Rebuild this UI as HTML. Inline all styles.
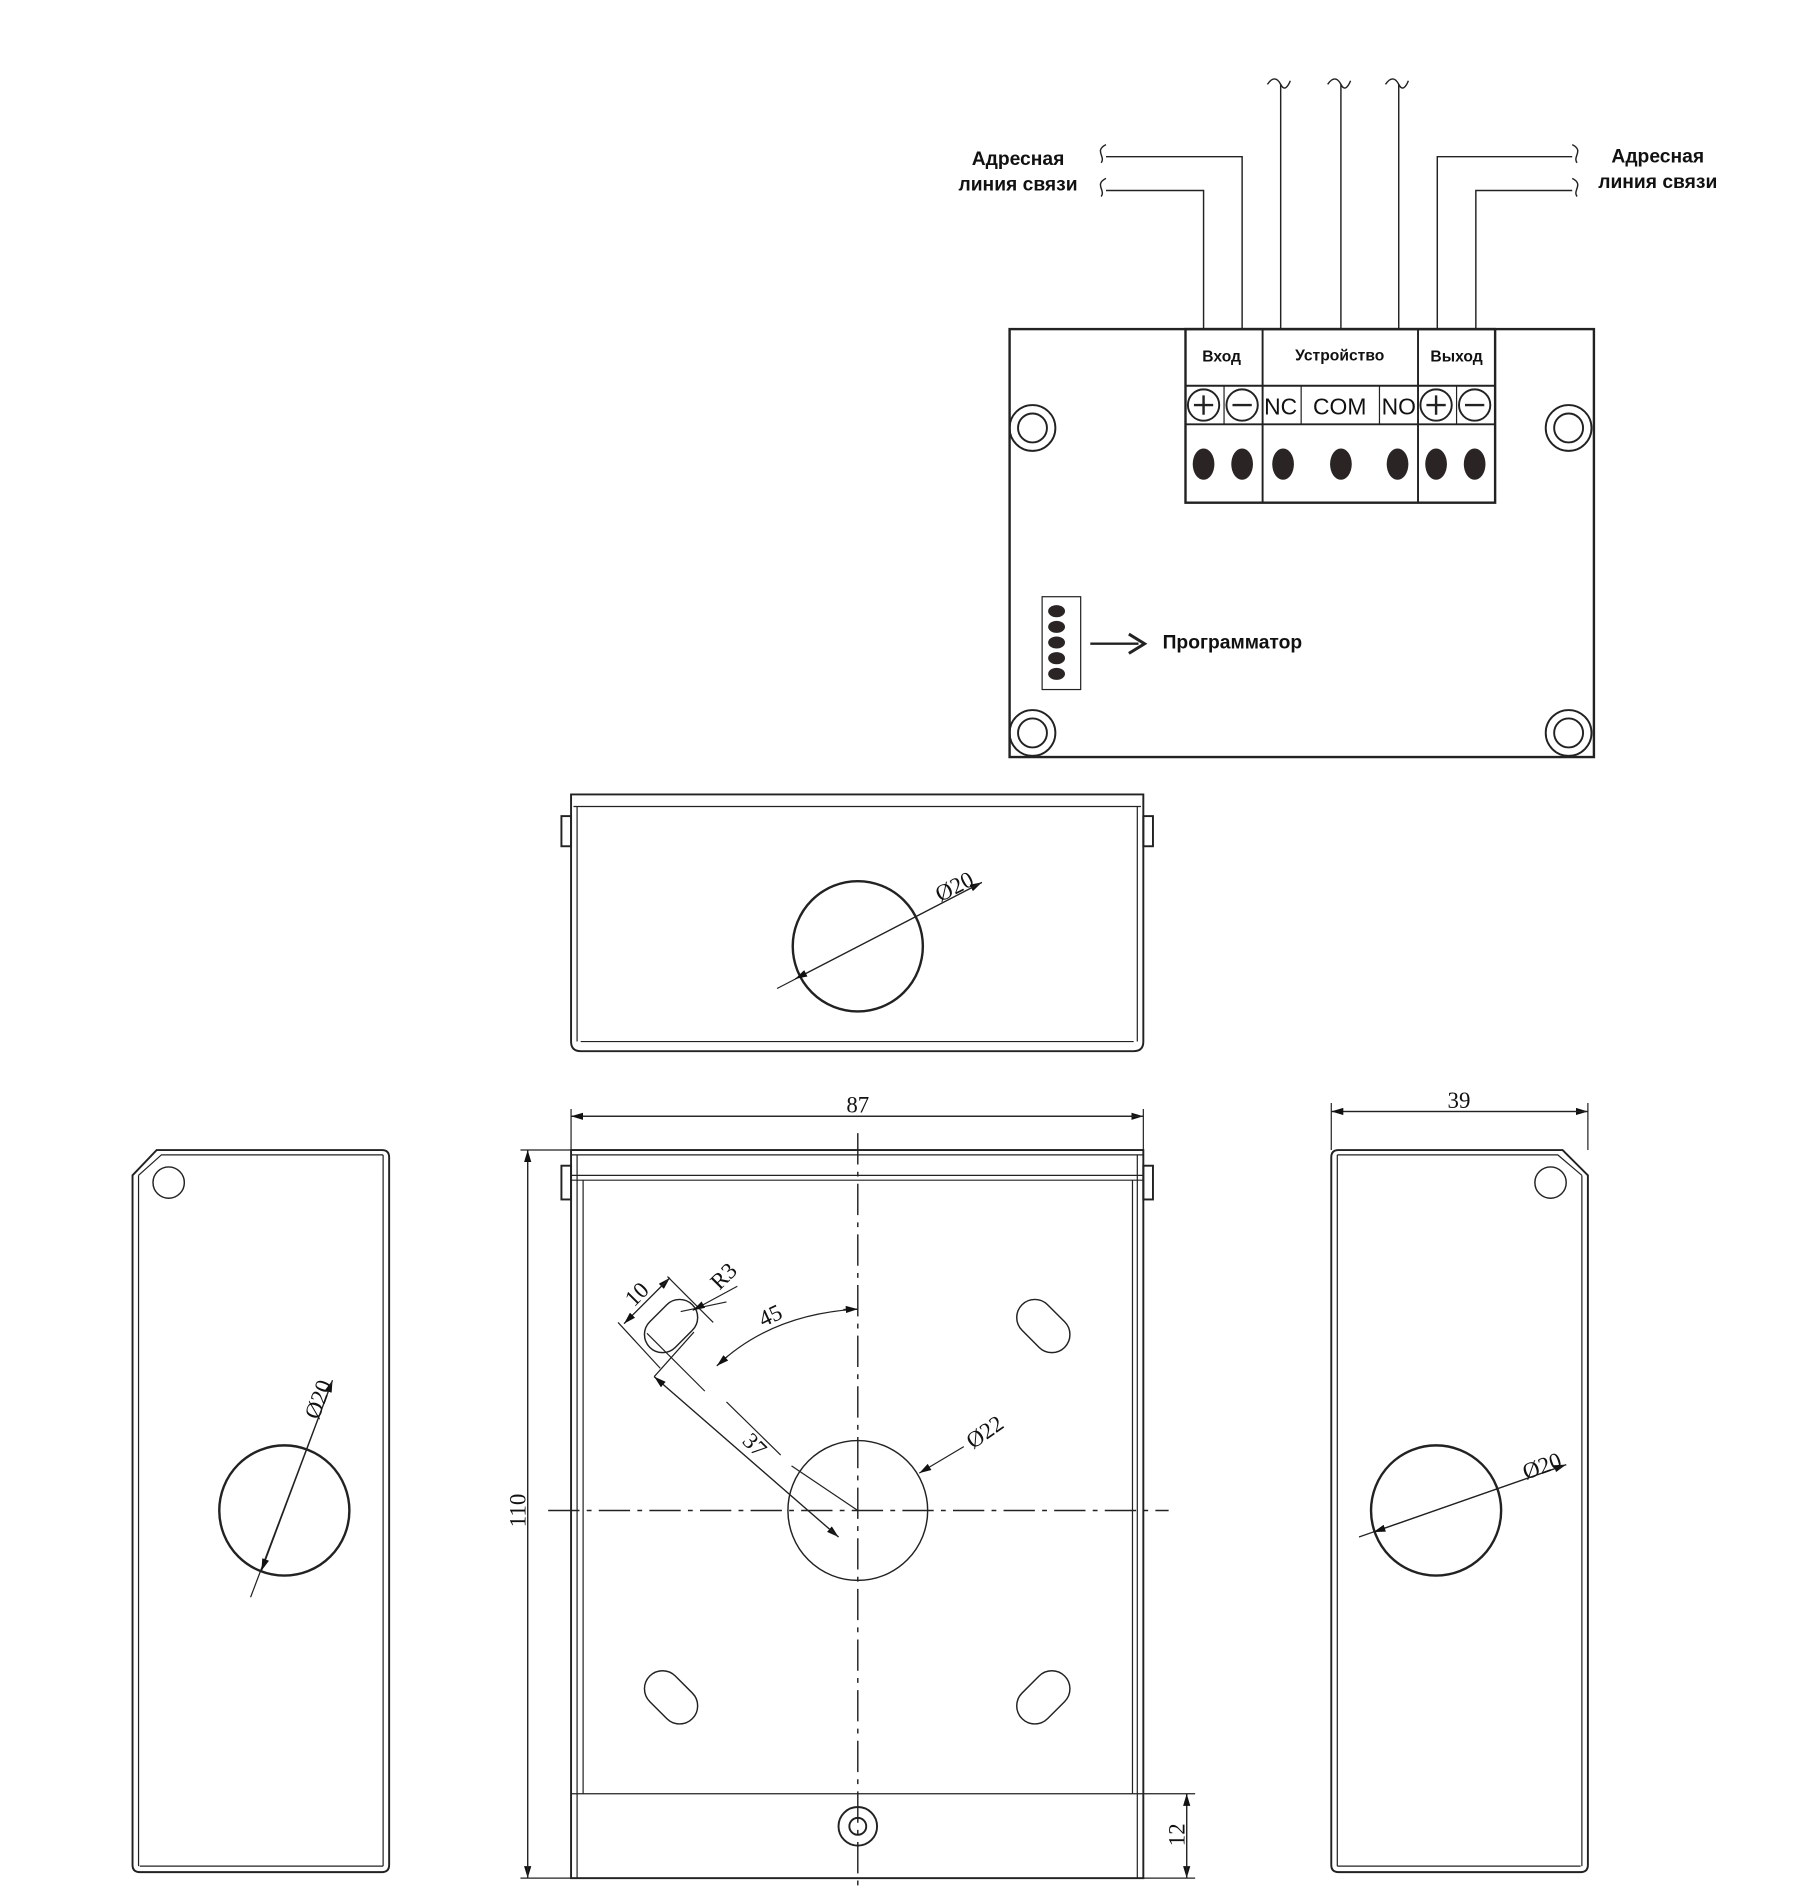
<!DOCTYPE html>
<html><head><meta charset="utf-8"><style>
html,body{margin:0;padding:0;background:#fff}
svg{display:block}
text{font-family:"Liberation Sans",sans-serif;fill:#111}
.s{font-family:"Liberation Serif",serif;font-size:19px}
.b{font-weight:bold;font-size:16px}
</style></head><body>
<svg width="1818" height="1889" viewBox="0 0 1509 1567" preserveAspectRatio="none" xmlns="http://www.w3.org/2000/svg">
<defs>
<marker id="a" markerWidth="10" markerHeight="6" refX="10" refY="3" orient="auto" markerUnits="userSpaceOnUse"><path d="M0,0 L10,3 L0,6z" fill="#111"/></marker>
</defs>
<g fill="none" stroke="#222" stroke-width="1.6">
<rect x="838" y="273" width="485" height="355" stroke-width="2"/>
<rect x="984" y="273" width="257" height="144" stroke-width="2"/>
<line x1="984" y1="320" x2="1241" y2="320"/>
<line x1="984" y1="352" x2="1241" y2="352"/>
<line x1="1048" y1="273" x2="1048" y2="417"/>
<line x1="1177" y1="273" x2="1177" y2="417"/>
<line x1="1016" y1="320" x2="1016" y2="352" stroke-width="1"/>
<line x1="1080" y1="320" x2="1080" y2="352" stroke-width="1"/>
<line x1="1145" y1="320" x2="1145" y2="352" stroke-width="1"/>
<line x1="1209" y1="320" x2="1209" y2="352" stroke-width="1"/>
<circle cx="999" cy="336" r="13"/><circle cx="1031" cy="336" r="13"/>
<circle cx="1192" cy="336" r="13"/><circle cx="1224" cy="336" r="13"/>
<path d="M991,336h16M999,328v16M1023,336h16M1184,336h16M1192,328v16M1216,336h16" stroke-width="2"/>
<circle cx="857" cy="355" r="19"/><circle cx="857" cy="355" r="12"/>
<circle cx="1302" cy="355" r="19"/><circle cx="1302" cy="355" r="12"/>
<circle cx="857" cy="608" r="19"/><circle cx="857" cy="608" r="12"/>
<circle cx="1302" cy="608" r="19"/><circle cx="1302" cy="608" r="12"/>
<path d="M999,273V158H918M1031,273V130H918M1063,273V70M1113,273V70M1161,273V70M1193,273V130H1305M1225,273V158H1305" stroke-width="1.2"/>
<path d="M918,120c-10,5 0,10 -4,15M918,148c-10,5 0,10 -4,15M1305,120c10,5 0,10 4,15M1305,148c10,5 0,10 4,15M1052,70c4,-6 8,-6 11,0c3,6 6,2 8,-3M1102,70c4,-6 8,-6 11,0c3,6 6,2 8,-3M1150,70c4,-6 8,-6 11,0c3,6 6,2 8,-3" stroke-width="1.2"/>
<rect x="865" y="495" width="32" height="77" stroke-width="1"/>
<path d="M905,534H945" stroke-width="2"/><path d="M937,526L950,534L937,542" stroke-width="2.5"/>
<path d="M474,659H949V864Q949,872 941,872H482Q474,872 474,864Z"/>
<path d="M476,669H947M479,669V864M944,669V864M482,864H941" stroke-width="1"/>
<rect x="466" y="677" width="8" height="25"/><rect x="949" y="677" width="8" height="25"/>
<circle cx="712" cy="785" r="54" stroke-width="2"/>
<line x1="645" y1="820" x2="815" y2="732" stroke-width="1" marker-end="url(#a)"/>
<line x1="815" y1="732" x2="660" y2="812" stroke-width="1" marker-end="url(#a)"/>
<rect x="474" y="954" width="475" height="604"/>
<path d="M474,958H949M474,975H949M474,979H949M479,958V1558M944,958V1558M484,979V1488M940,979V1488M474,1488H949" stroke-width="1"/>
<rect x="466" y="967" width="8" height="28"/><rect x="949" y="967" width="8" height="28"/>
<circle cx="712" cy="1253" r="58" stroke-width="1.2"/>
<path d="M712,940V1565M455,1253H970" stroke-width="1.2" stroke-dasharray="26,6,4,6"/>
<rect x="-25" y="-15" width="50" height="30" rx="15" transform="translate(557,1100) rotate(-45)" stroke-width="1.2"/>
<rect x="-25" y="-15" width="50" height="30" rx="15" transform="translate(866,1100) rotate(45)" stroke-width="1.2"/>
<rect x="-25" y="-15" width="50" height="30" rx="15" transform="translate(557,1408) rotate(45)" stroke-width="1.2"/>
<rect x="-25" y="-15" width="50" height="30" rx="15" transform="translate(866,1408) rotate(-45)" stroke-width="1.2"/>
<circle cx="712" cy="1515" r="16"/><circle cx="712" cy="1515" r="7"/>
<path d="M474,920V954M949,920V954M432,954H474M432,1558H474M949,1488H992M949,1558H992" stroke-width="1"/>
<line x1="474" y1="926" x2="949" y2="926" stroke-width="1" marker-end="url(#a)"/>
<line x1="949" y1="926" x2="474" y2="926" stroke-width="1" marker-end="url(#a)"/>
<line x1="438" y1="954" x2="438" y2="1558" stroke-width="1" marker-end="url(#a)"/>
<line x1="438" y1="1558" x2="438" y2="954" stroke-width="1" marker-end="url(#a)"/>
<line x1="985" y1="1488" x2="985" y2="1558" stroke-width="1" marker-end="url(#a)"/>
<line x1="985" y1="1558" x2="985" y2="1488" stroke-width="1" marker-end="url(#a)"/>
<path d="M513,1097L548,1135M554,1059L592,1097M537,1106L585,1154M603,1163L648,1207M657,1216L712,1253M543,1142L576,1105M565,1088L603,1080" stroke-width="1"/>
<line x1="518" y1="1098" x2="556" y2="1060" stroke-width="1" marker-end="url(#a)"/>
<line x1="556" y1="1060" x2="518" y2="1098" stroke-width="1" marker-end="url(#a)"/>
<line x1="612" y1="1067" x2="575" y2="1087" stroke-width="1" marker-end="url(#a)"/>
<path d="M595,1133Q640,1090 712,1086" stroke-width="1"/>
<line x1="700" y1="1086.3" x2="712" y2="1086" stroke-width="1" marker-end="url(#a)"/>
<line x1="604" y1="1125" x2="595" y2="1133" stroke-width="1" marker-end="url(#a)"/>
<line x1="543" y1="1142" x2="696" y2="1275" stroke-width="1" marker-end="url(#a)"/>
<line x1="696" y1="1275" x2="543" y2="1142" stroke-width="1" marker-end="url(#a)"/>
<line x1="800" y1="1200" x2="763" y2="1222" stroke-width="1" marker-end="url(#a)"/>
<path d="M110,975L130,954H317Q323,954 323,960V1547Q323,1553 317,1553H116Q110,1553 110,1547Z"/>
<path d="M115,975L134,958H318M318,958V1548M115,975V1548M116,1548H318" stroke-width="1"/>
<circle cx="140" cy="981" r="13" stroke-width="1.2"/>
<circle cx="236" cy="1253" r="54" stroke-width="2"/>
<line x1="208" y1="1325" x2="276" y2="1145" stroke-width="1" marker-end="url(#a)"/>
<line x1="276" y1="1145" x2="217" y2="1303" stroke-width="1" marker-end="url(#a)"/>
<path d="M1318,975L1297,954H1111Q1105,954 1105,960V1547Q1105,1553 1111,1553H1312Q1318,1553 1318,1547Z"/>
<path d="M1313,975L1293,958H1110M1110,958V1548M1313,975V1548M1110,1548H1312" stroke-width="1"/>
<circle cx="1287" cy="981" r="13" stroke-width="1.2"/>
<circle cx="1192" cy="1253" r="54" stroke-width="2"/>
<line x1="1128" y1="1275" x2="1300" y2="1215" stroke-width="1" marker-end="url(#a)"/>
<line x1="1300" y1="1215" x2="1140" y2="1271" stroke-width="1" marker-end="url(#a)"/>
<path d="M1105,915V954M1318,915V954" stroke-width="1"/>
<line x1="1105" y1="922" x2="1318" y2="922" stroke-width="1" marker-end="url(#a)"/>
<line x1="1318" y1="922" x2="1105" y2="922" stroke-width="1" marker-end="url(#a)"/>
</g>
<g fill="#2a2424">
<ellipse cx="999" cy="385" rx="9" ry="13"/><ellipse cx="1031" cy="385" rx="9" ry="13"/>
<ellipse cx="1065" cy="385" rx="9" ry="13"/><ellipse cx="1113" cy="385" rx="9" ry="13"/>
<ellipse cx="1160" cy="385" rx="9" ry="13"/><ellipse cx="1192" cy="385" rx="9" ry="13"/>
<ellipse cx="1224" cy="385" rx="9" ry="13"/>
<ellipse cx="877" cy="507" rx="7" ry="5"/><ellipse cx="877" cy="520" rx="7" ry="5"/>
<ellipse cx="877" cy="533" rx="7" ry="5"/><ellipse cx="877" cy="546" rx="7" ry="5"/>
<ellipse cx="877" cy="559" rx="7" ry="5"/>
</g>
<text class="b" x="845" y="137" text-anchor="middle">Адресная</text>
<text class="b" x="845" y="158" text-anchor="middle">линия связи</text>
<text class="b" x="1376" y="135" text-anchor="middle">Адресная</text>
<text class="b" x="1376" y="156" text-anchor="middle">линия связи</text>
<text x="1014" y="300" text-anchor="middle" style="font-size:13px;font-weight:bold">Вход</text>
<text x="1112" y="299" text-anchor="middle" style="font-size:13px;font-weight:bold">Устройство</text>
<text x="1209" y="300" text-anchor="middle" style="font-size:13px;font-weight:bold">Выход</text>
<text x="1063" y="344" text-anchor="middle" style="font-size:19px">NC</text>
<text x="1112" y="344" text-anchor="middle" style="font-size:19px">COM</text>
<text x="1161" y="344" text-anchor="middle" style="font-size:19px">NO</text>
<text class="b" x="965" y="538">Программатор</text>
<text class="s" x="712" y="923" text-anchor="middle">87</text>
<text class="s" x="1211" y="919" text-anchor="middle">39</text>
<text class="s" transform="translate(436,1253) rotate(-90)" text-anchor="middle">110</text>
<text class="s" transform="translate(983,1522) rotate(-90)" text-anchor="middle">12</text>
<text class="s" transform="translate(795,741) rotate(-27)" text-anchor="middle">Ø20</text>
<text class="s" transform="translate(270,1163) rotate(-70)" text-anchor="middle">Ø20</text>
<text class="s" transform="translate(1282,1222) rotate(-20)" text-anchor="middle">Ø20</text>
<text class="s" transform="translate(821,1193) rotate(-35)" text-anchor="middle">Ø22</text>
<text class="s" transform="translate(533,1078) rotate(-45)" text-anchor="middle">10</text>
<text class="s" transform="translate(605,1063) rotate(-45)" text-anchor="middle">R3</text>
<text class="s" transform="translate(642,1097) rotate(-25)" text-anchor="middle">45</text>
<text class="s" transform="translate(622,1203) rotate(45)" text-anchor="middle">37</text>
</svg>
</body></html>
